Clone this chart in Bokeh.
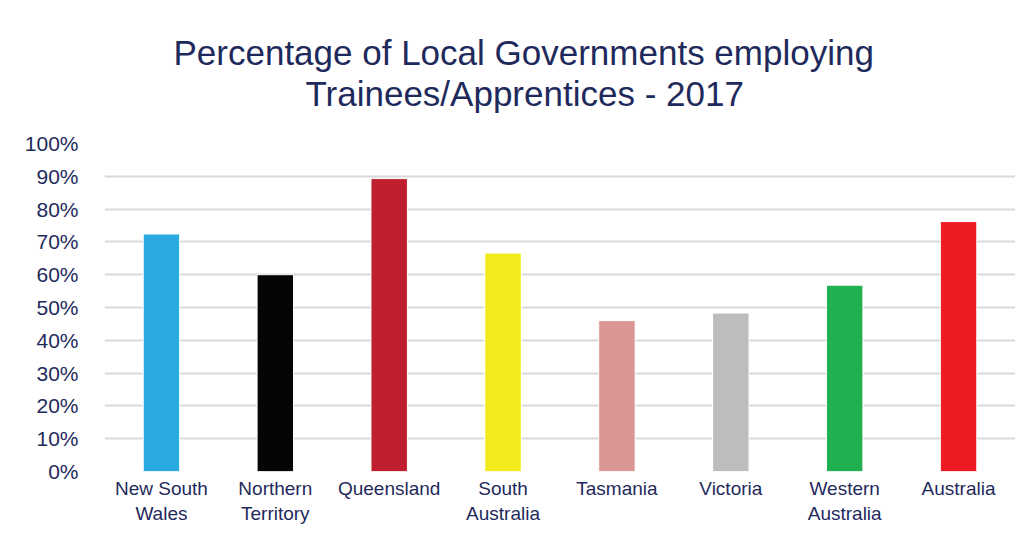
from bokeh.plotting import figure
from bokeh.models import FactorRange, Range1d, FixedTicker, NumeralTickFormatter, ColumnDataSource, Title
from bokeh.embed import file_html
from bokeh.resources import INLINE

categories = ["New South\nWales", "Northern\nTerritory", "Queensland", "South\nAustralia",
              "Tasmania", "Victoria", "Western\nAustralia", "Australia"]
values = [0.724, 0.600, 0.893, 0.666, 0.460, 0.483, 0.568, 0.762]
colors = ["#29ABE2", "#050505", "#BE1E2D", "#F2EA1A", "#DA9694", "#BDBDBD", "#21B04F", "#ED1C24"]
y_ticks = [i / 10 for i in range(11)]
title_lines = ["Percentage of Local Governments employing", "Trainees/Apprentices - 2017"]

NAVY = "#1F2A5C"
FONT = "Liberation Sans"

src = ColumnDataSource(dict(cat=categories, val=values, color=colors))

p = figure(width=1015, height=526, x_range=FactorRange(*categories, range_padding=0),
           y_range=Range1d(0, 1), output_backend="svg", toolbar_location=None,
           min_border_left=104, min_border_right=0, min_border_top=143, min_border_bottom=54)

p.vbar(x="cat", top="val", width=0.32, color="color", line_color="white", line_width=1, source=src)

# panels stack outward from the plot: spacer, second line, first line
spacer = Title(text=" ", text_font_size="1px", standoff=28)
t2 = Title(text=title_lines[1], align="left", offset=201, standoff=0,
           text_font=FONT, text_font_size="35px", text_font_style="normal", text_color=NAVY)
t1 = Title(text=title_lines[0], align="left", offset=69, standoff=0,
           text_font=FONT, text_font_size="35px", text_font_style="normal", text_color=NAVY)
p.add_layout(spacer, "above")
p.add_layout(t2, "above")
p.add_layout(t1, "above")

p.outline_line_color = None
p.xgrid.grid_line_color = None
p.ygrid.grid_line_color = "#D9D9D9"
p.ygrid.grid_line_width = 2
p.yaxis.ticker = FixedTicker(ticks=y_ticks)
p.yaxis.formatter = NumeralTickFormatter(format="0%")

for ax in (p.xaxis, p.yaxis):
    ax.axis_line_color = None
    ax.major_tick_line_color = None
    ax.minor_tick_line_color = None
    ax.major_label_text_font = FONT
    ax.major_label_text_color = NAVY

p.yaxis.major_label_text_font_size = "21px"
p.yaxis.major_label_standoff = 20
p.xaxis.major_label_text_font_size = "19px"
p.xaxis.major_label_standoff = 0

open("out.html", "w").write(file_html(p, INLINE))
